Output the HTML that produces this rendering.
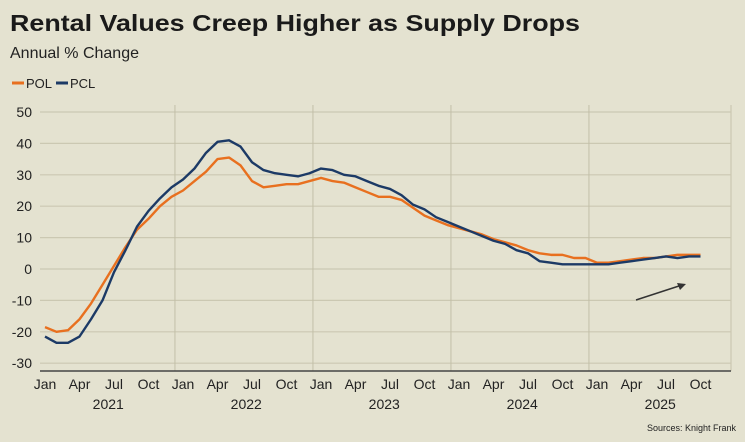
<!DOCTYPE html>
<html><head><meta charset="utf-8"><style>
body{margin:0;background:#e4e2d0;font-family:"Liberation Sans",sans-serif}
svg{display:block}
</style></head><body>
<svg width="745" height="442">
<rect width="745" height="442" fill="#e4e2d0"/>
<text x="10" y="31" font-size="23" font-weight="bold" fill="#1a1a1a" textLength="570" lengthAdjust="spacingAndGlyphs">Rental Values Creep Higher as Supply Drops</text>
<text x="10" y="58" font-size="16" fill="#222">Annual % Change</text>
<g>
<line x1="12" y1="83" x2="24" y2="83" stroke="#e8701f" stroke-width="3"/>
<text x="26" y="88" font-size="13" fill="#222">POL</text>
<line x1="56" y1="83" x2="68" y2="83" stroke="#1c3a66" stroke-width="3"/>
<text x="70" y="88" font-size="13" fill="#222">PCL</text>
</g>
<g id="grid"></g><g id="series"></g><g id="axes"></g>
<g>
<line x1="636" y1="300" x2="682" y2="285" stroke="#333" stroke-width="1.5"/>
<polygon points="686,284 677,283 680,290" fill="#333"/>
</g>
<text x="736" y="431" font-size="9" fill="#222" text-anchor="end">Sources: Knight Frank</text>
</svg>
<script>
const months=["Jan","Apr","Jul","Oct"];
const years=["2021","2022","2023","2024","2025"];
const yTicks=[50,40,30,20,10,0,-10,-20,-30];
const pol=[-18.5,-20,-19.5,-16,-11,-5,1,7,12.5,16,20,23,25,28,31,35,35.5,33,28,26,26.5,27,27,28,29,28,27.5,26,24.5,23,23,22,19.5,17,15.5,14,13,12,11,9.5,8.5,7.5,6,5,4.5,4.5,3.5,3.5,2,2,2.5,3,3.5,3.5,4,4.5,4.5,4.5];
const pcl=[-21.5,-23.5,-23.5,-21.5,-16,-10,-1,6,13.5,18.5,22.5,26,28.5,32,37,40.5,41,39,34,31.5,30.5,30,29.5,30.5,32,31.5,30,29.5,28,26.5,25.5,23.5,20.5,19,16.5,15,13.5,12,10.5,9,8,6,5,2.5,2,1.5,1.5,1.5,1.5,1.5,2,2.5,3,3.5,4,3.5,4,4];
const NS="http://www.w3.org/2000/svg";
const L=40,R=731,T=105,B=371;
const x=i=>45+i*11.5;
const y=v=>269-v*3.14;
function mk(p,t,a){const e=document.createElementNS(NS,t);for(const k in a)e.setAttribute(k,a[k]);p.appendChild(e);return e;}
const g=document.getElementById('grid'),s=document.getElementById('series'),ax=document.getElementById('axes');
yTicks.forEach(v=>{
const ln=mk(g,'line',{x1:L,x2:R,y1:y(v),y2:y(v),stroke:'#cbc8b2','stroke-width':1.2});


const t=mk(ax,'text',{x:32,y:y(v)+5,'font-size':14,fill:'#222','text-anchor':'end'});t.textContent=v;


});
for(let k=1;k<5;k++){const ln=mk(g,'line',{x1:x(k*12-0.7),x2:x(k*12-0.7),y1:T,y2:B,stroke:'#c2bfa8','stroke-width':1});

}
mk(g,'line',{x1:R,x2:R,y1:T,y2:B,stroke:'#cbc8b2','stroke-width':1.2});
const base=mk(ax,'line',{x1:L,x2:R,y1:B,y2:B,stroke:'#444','stroke-width':1.5});


years.forEach((yr,k)=>{
months.forEach((m,j)=>{const i=k*12+j*3;if(i>=pol.length)return;
const t=mk(ax,'text',{x:x(i),y:389,'font-size':14,fill:'#222','text-anchor':'middle'});t.textContent=m;

});
const t=mk(ax,'text',{x:x(k*12+5.5),y:409,'font-size':14,fill:'#222','text-anchor':'middle'});t.textContent=yr;


});
function line(d,c,n){const p=mk(s,'polyline',{points:d.map((v,i)=>x(i)+','+y(v)).join(' '),fill:'none',stroke:c,'stroke-width':2.4,'stroke-linejoin':'round'});

}
line(pol,'#e8701f','pol-line');
line(pcl,'#1c3a66','pcl-line');
</script>
</body></html>
